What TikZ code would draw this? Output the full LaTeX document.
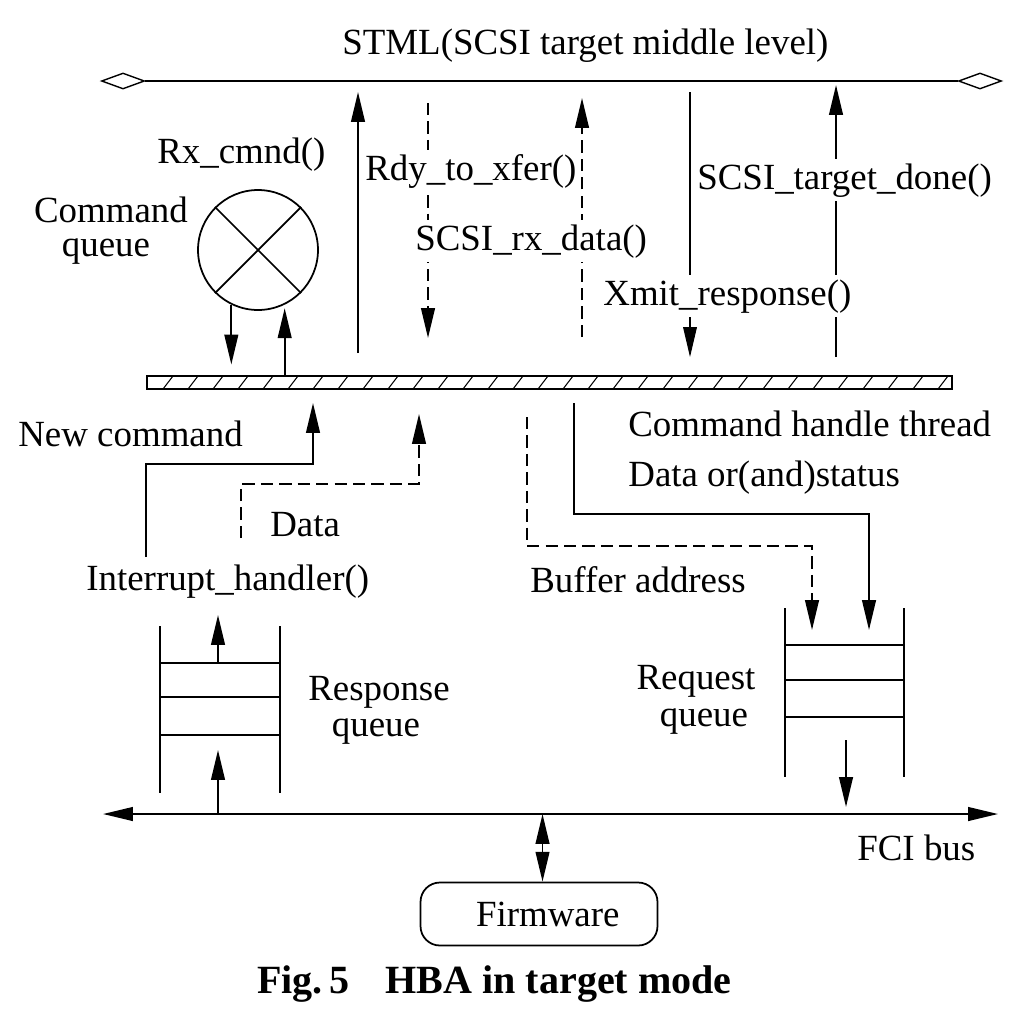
\documentclass[tikz,border=0pt]{standalone}
\usepackage{fontspec}
\setmainfont{Liberation Serif}
\usetikzlibrary{arrows.meta,shapes.geometric}
\begin{document}
\begin{tikzpicture}[x=0.02cm,y=-0.02cm,
  txt/.style={font=\fontsize{21}{25}\selectfont, inner sep=0pt, anchor=base west},
  lbl/.style={txt, fill=white, inner ysep=2.5pt},
  ln/.style={line width=1.1pt},
  hair/.style={line width=0.6pt},
  tip/.style={-{Triangle[length=17pt,width=7.8pt]}},
  dtip/.style={{Triangle[length=17pt,width=7.8pt]}-{Triangle[length=17pt,width=7.8pt]}},
  dsh/.style={dash pattern=on 7pt off 3.5pt},
  dia/.style={diamond, draw, line width=0.8pt, minimum width=0.86cm, minimum height=0.32cm, inner sep=0pt},
]
\useasboundingbox (0,0) rectangle (1026,1018);

% ---- top level (STML) line ----
\node[dia] (ldia) at (123,81) {};
\node[dia] (rdia) at (980,81) {};
\draw[ln] (ldia.east) -- (rdia.west);
\node[txt] (stml) at (342,54) {STML(SCSI target middle level)};

% ---- command handle thread (hatched bar) ----
\node[draw, line width=1.1pt, minimum width=16.1cm, minimum height=0.26cm, inner sep=0pt] (bar) at (549.5,382.5) {};
\begin{scope}
  \clip (bar.south west) rectangle (bar.north east);
  \foreach \x in {163,188,...,963} \draw[hair] (\x,389) -- (\x+10,376);
\end{scope}

% ---- command queue ----
\node[circle, draw, line width=1pt, minimum size=2.4cm, inner sep=0pt] (cq) at (258,250) {};
\draw[line width=1pt] (cq.45) -- (cq.225);
\draw[line width=1pt] (cq.135) -- (cq.315);
\draw[ln,tip,shorten >=6pt] (cq.244) -- (cq.244 |- bar.north);
\draw[ln,tip,shorten >=2pt] (cq.296 |- bar.north) -- (cq.296);

% ---- calls between bar and STML ----
\coordinate (rc0) at (358,353); \coordinate (rc1) at (358,92);
\coordinate (rd0) at (428,103); \coordinate (rd1) at (428,338);
\coordinate (rx0) at (582,337); \coordinate (rx1) at (582,98);
\coordinate (xm0) at (690,92);  \coordinate (xm1) at (690,357);
\coordinate (dn0) at (836,357); \coordinate (dn1) at (836,85);
\draw[ln,tip] (rc0) -- (rc1);
\draw[ln,dsh,tip] (rd0) -- (rd1);
\draw[ln,dsh,tip] (rx0) -- (rx1);
\draw[hair,tip] (xm0) -- (xm1);
\draw[ln,tip] (dn0) -- (dn1);

% ---- connectors below the bar ----
\coordinate (nc0) at (146,557); \coordinate (nc1) at (313,403);
\coordinate (dt0) at (241,538); \coordinate (dt1) at (419,414);
\coordinate (ba0) at (527,417); \coordinate (ba1) at (812,630);
\coordinate (ds0) at (574,403); \coordinate (ds1) at (869,630);
\draw[ln,tip] (nc0) |- (313,464) -- (nc1);
\draw[ln,dsh,tip] (dt0) |- (419,484) -- (dt1);
\draw[ln,dsh,tip] (ba0) |- (812,546) -- (ba1);
\draw[ln,tip] (ds0) |- (869,514) -- (ds1);

% ---- response queue ----
\draw[ln] (160,626) -- (160,793);
\draw[ln] (280,626) -- (280,793);
\draw[hair] (160,663) -- (280,663);
\draw[ln] (160,697) -- (280,697);
\draw[ln] (160,735) -- (280,735);
\coordinate (rq0) at (218,663); \coordinate (rq1) at (218,615);
\draw[ln,tip] (rq0) -- (rq1);

% ---- request queue ----
\draw[ln] (785,608) -- (785,777);
\draw[ln] (904,608) -- (904,777);
\draw[ln] (785,645) -- (904,645);
\draw[hair] (785,680) -- (904,680);
\draw[ln] (785,717) -- (904,717);

% ---- FCI bus and firmware ----
\coordinate (busL) at (103,814); \coordinate (busR) at (998,814);
\draw[ln,dtip] (busL) -- (busR);
\coordinate (bq0) at (218,750); \coordinate (qb0) at (846,740); \coordinate (qb1) at (846,807);
\draw[ln,tip] (bq0 |- busL) -- (bq0);
\draw[ln,tip] (qb0) -- (qb1);
\node[draw, line width=1pt, rounded corners=11pt, minimum width=4.74cm, minimum height=1.26cm, inner sep=0pt, font=\fontsize{21}{25}\selectfont] (fw) at (539,914) {\hspace*{10pt}Firmware};
\draw[ln,dtip] ([xshift=2pt]fw.north |- busL) -- ([xshift=2pt]fw.north);

% ---- labels ----
\node[txt] (lrx) at (157,163) {Rx\_cmnd()};
\node[txt, anchor=base] (lcq1) at (111,222) {Command};
\node[txt, anchor=base] (lcq2) at (106,256) {queue};
\node[lbl] (lrdy) at (365,180) {Rdy\_to\_xfer()};
\node[lbl] (lsrx) at (415,250) {SCSI\_rx\_data()};
\node[lbl] (ldone) at (697,189) {SCSI\_target\_done()};
\node[lbl] (lxmit) at (603,305) {Xmit\_response()};
\node[txt] (lnew) at (18,446) {New command};
\node[txt] (ldata) at (270,536) {Data};
\node[txt] (lih) at (86,590) {Interrupt\_handler()};
\node[txt] (lcht) at (628,436) {Command handle thread};
\node[txt] (ldos) at (628,486) {Data or(and)status};
\node[txt] (lbuf) at (530,592) {Buffer address};
\node[txt, anchor=base] (lrs1) at (379,700) {Response};
\node[txt, anchor=base] (lrs2) at (376,736) {queue};
\node[txt, anchor=base] (lrq1) at (696,689) {Request};
\node[txt, anchor=base] (lrq2) at (704,726) {queue};
\node[txt] (lfci) at (857,860) {FCI bus};

% ---- caption ----
\node[font=\fontsize{22.8}{27}\selectfont\bfseries, inner sep=0pt, anchor=base west] (cap) at (257,993) {Fig.\,5\hspace{0.9em}HBA in target mode};
\end{tikzpicture}
\end{document}
